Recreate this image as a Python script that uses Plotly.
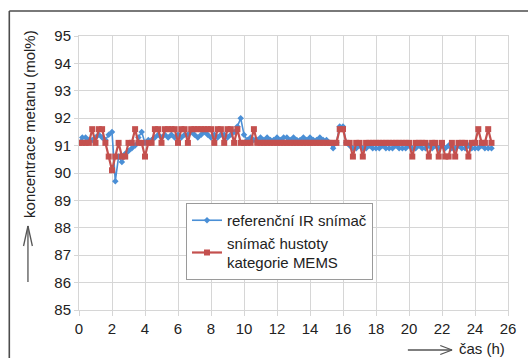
import plotly.graph_objects as go

# time (h)
hours = [
    0.0, 0.2, 0.4, 0.6, 0.8, 1.0, 1.2, 1.4, 1.6, 1.8,
    2.0, 2.2, 2.4, 2.6, 2.8, 3.0, 3.2, 3.4, 3.6, 3.8,
    4.0, 4.2, 4.4, 4.6, 4.8, 5.0, 5.2, 5.4, 5.6, 5.8,
    6.0, 6.2, 6.4, 6.6, 6.8, 7.0, 7.2, 7.4, 7.6, 7.8,
    8.0, 8.2, 8.4, 8.6, 8.8, 9.0, 9.2, 9.4, 9.6, 9.8,
    10.0, 10.2, 10.4, 10.6, 10.8, 11.0, 11.2, 11.4, 11.6, 11.8,
    12.0, 12.2, 12.4, 12.6, 12.8, 13.0, 13.2, 13.4, 13.6, 13.8,
    14.0, 14.2, 14.4, 14.6, 14.8, 15.0, 15.2, 15.4, 15.6, 15.8,
    16.0, 16.2, 16.4, 16.6, 16.8, 17.0, 17.2, 17.4, 17.6, 17.8,
    18.0, 18.2, 18.4, 18.6, 18.8, 19.0, 19.2, 19.4, 19.6, 19.8,
    20.0, 20.2, 20.4, 20.6, 20.8, 21.0, 21.2, 21.4, 21.6, 21.8,
    22.0, 22.2, 22.4, 22.6, 22.8, 23.0, 23.2, 23.4, 23.6, 23.8,
    24.0, 24.2, 24.4, 24.6, 24.8, 25.0,
]

# reference IR sensor (mol%)
ir_sensor = [
    91.1, 91.3, 91.3, 91.2, 91.2, 91.3, 91.4, 91.3, 91.2, 91.4,
    91.5, 89.7, 90.6, 90.4, 90.7, 90.8, 90.9, 91.0, 91.3, 91.5,
    91.1, 91.2, 91.2, 91.3, 91.4, 91.3, 91.4, 91.3, 91.4, 91.3,
    91.4, 91.3, 91.4, 91.4, 91.5, 91.4, 91.3, 91.4, 91.5, 91.4,
    91.3, 91.4, 91.3, 91.4, 91.4, 91.3, 91.4, 91.5, 91.7, 92.0,
    91.4, 91.2, 91.3, 91.2, 91.2, 91.3, 91.2, 91.3, 91.2, 91.2,
    91.3, 91.2, 91.3, 91.3, 91.2, 91.3, 91.2, 91.2, 91.3, 91.2,
    91.3, 91.2, 91.2, 91.3, 91.2, 91.2, 91.1, 90.9, 91.1, 91.7,
    91.7, 91.1, 91.0, 90.9, 90.9, 91.0, 90.9, 90.9, 91.0, 90.9,
    90.9, 90.9, 91.0, 90.9, 90.9, 90.9, 91.0, 90.9, 90.9, 90.9,
    91.0, 90.9, 90.9, 91.0, 90.9, 90.9, 91.0, 90.9, 91.0, 90.9,
    91.0, 90.9, 91.0, 90.9, 90.9, 91.0, 90.9, 90.9, 91.0, 90.9,
    90.9, 90.9, 91.0, 90.9, 90.9, 90.9,
]

# MEMS density sensor (mol%)
mems_sensor = [
    91.1, 91.1, 91.1, 91.1, 91.6, 91.1, 91.6, 91.6, 91.1, 90.6,
    90.1, 90.6, 91.1, 90.6, 90.6, 91.1, 91.1, 91.6, 91.1, 91.1,
    90.6, 91.1, 91.1, 91.6, 91.6, 91.1, 91.6, 91.6, 91.6, 91.6,
    91.1, 91.6, 91.6, 91.1, 91.6, 91.6, 91.6, 91.6, 91.6, 91.6,
    91.6, 91.1, 91.6, 91.6, 91.1, 91.6, 91.6, 91.1, 91.6, 91.1,
    91.1, 91.1, 91.1, 91.6, 91.1, 91.1, 91.1, 91.1, 91.1, 91.1,
    91.1, 91.1, 91.1, 91.1, 91.1, 91.1, 91.1, 91.1, 91.1, 91.1,
    91.1, 91.1, 91.1, 91.1, 91.1, 91.1, 91.1, 91.1, 91.1, 91.6,
    91.6, 91.1, 91.1, 90.6, 91.1, 91.1, 90.6, 91.1, 91.1, 91.1,
    91.1, 91.1, 91.1, 91.1, 91.1, 91.1, 91.1, 91.1, 91.1, 91.1,
    91.1, 90.6, 91.1, 91.1, 91.1, 91.1, 90.6, 91.1, 91.1, 90.6,
    91.1, 90.6, 90.6, 91.1, 90.6, 91.1, 91.1, 91.1, 90.6, 91.1,
    91.1, 91.6, 91.1, 91.1, 91.6, 91.1,
]

series_names = ["referenční IR snímač", "snímač hustoty<br>kategorie MEMS"]
x_ticks = [0, 2, 4, 6, 8, 10, 12, 14, 16, 18, 20, 22, 24, 26]
y_ticks = [85, 86, 87, 88, 89, 90, 91, 92, 93, 94, 95]

W, H = 528, 358
L, R, T, B = 79, 12, 36, 48
PW, PH = W - L - R, H - T - B


def px(x, y):
    """pixel -> paper coordinates"""
    return (x - L) / PW, (H - B - y) / PH


FONT = "Liberation Sans, Arial, Helvetica, sans-serif"

fig = go.Figure()
fig.add_trace(go.Scatter(
    x=hours, y=ir_sensor, name=series_names[0], mode="lines+markers",
    line=dict(color="#4a8fd6", width=1.6),
    marker=dict(symbol="diamond", size=5, color="#4a8fd6"),
))
fig.add_trace(go.Scatter(
    x=hours, y=mems_sensor, name=series_names[1], mode="lines+markers",
    line=dict(color="#c4504e", width=2.2),
    marker=dict(symbol="square", size=6, color="#c4504e"),
))

shapes = []


def seg(p0, p1, color="#555555", width=1.3):
    x0, y0 = px(*p0)
    x1, y1 = px(*p1)
    shapes.append(dict(type="line", xref="paper", yref="paper",
                       x0=x0, y0=y0, x1=x1, y1=y1,
                       line=dict(color=color, width=width)))


# outer frame (left & top)
seg((8, 11), (8, 370), "#4d4d4d", 1.6)
seg((8, 11), (540, 11), "#4d4d4d", 1.6)
# y-axis arrow
seg((27, 282), (27, 226))
seg((22.5, 246), (27, 226))
seg((31.5, 246), (27, 226))
# x-axis arrow
seg((414, 350), (459, 350))
seg((447, 345.5), (459, 350))
seg((447, 354.5), (459, 350))

ax_t, ay_t = px(28, 124)
cx, cy = px(464, 348)
annotations = [
    dict(text="koncentrace metanu (mol%)", xref="paper", yref="paper",
         x=ax_t, y=ay_t, xanchor="center", yanchor="middle", textangle=-90,
         showarrow=False, font=dict(size=15, color="#222222", family=FONT)),
    dict(text="čas (h)", xref="paper", yref="paper",
         x=cx, y=cy, xanchor="left", yanchor="middle",
         showarrow=False, font=dict(size=15, color="#222222", family=FONT)),
]

lx, ly = px(188, 203)

fig.update_layout(
    width=W, height=H,
    margin=dict(l=L, r=R, t=T, b=B, pad=0),
    paper_bgcolor="white", plot_bgcolor="white",
    font=dict(family=FONT, size=15, color="#222222"),
    showlegend=True,
    legend=dict(x=lx, y=ly, xanchor="left", yanchor="top",
                bgcolor="white", bordercolor="#9a9a9a", borderwidth=1,
                font=dict(size=15, color="#222222", family=FONT),
                itemwidth=30, tracegroupgap=4),
    shapes=shapes,
    annotations=annotations,
    xaxis=dict(range=[0, 26], tickvals=x_ticks, ticktext=[str(v) for v in x_ticks],
               showgrid=True, gridcolor="#d6d6d6", gridwidth=1,
               ticks="outside", ticklen=5, tickcolor="#d6d6d6",
               showline=True, linecolor="#d6d6d6", mirror=True,
               zeroline=False, tickfont=dict(size=15, color="#222222")),
    yaxis=dict(range=[85, 95], tickvals=y_ticks, ticktext=[str(v) for v in y_ticks],
               showgrid=True, gridcolor="#d6d6d6", gridwidth=1,
               ticks="outside", ticklen=4, tickcolor="#d6d6d6",
               showline=True, linecolor="#d6d6d6", mirror=True,
               zeroline=False, tickfont=dict(size=15, color="#222222")),
)

fig.write_html("out.html")
